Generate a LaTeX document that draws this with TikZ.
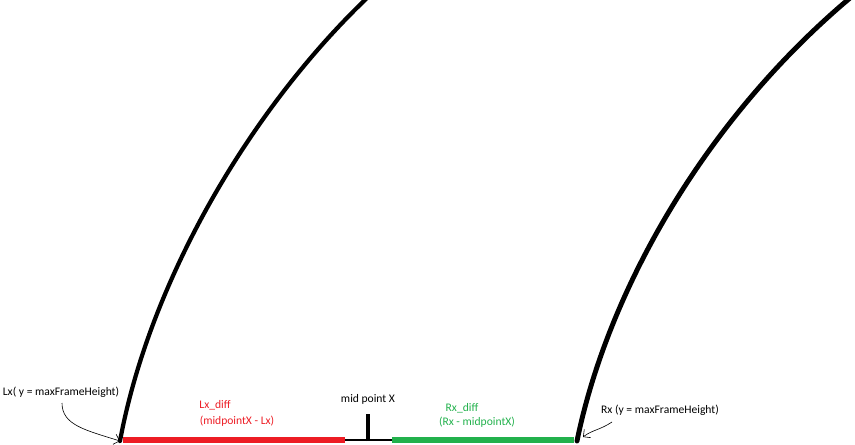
\documentclass[tikz,border=0pt]{standalone}
\usepackage{fontspec}
\setmainfont{Carlito}
\definecolor{paintred}{RGB}{237,28,36}
\definecolor{paintgreen}{RGB}{34,177,76}
\usetikzlibrary{arrows.meta,positioning,calc}
\tikzset{
  lbl/.style={font=\fontsize{6.6}{8}\selectfont, inner sep=1pt},
  lane/.style={line width=2.4pt},
  pointer/.style={-{Straight Barb[length=3pt]}, line width=0.35pt}
}
\begin{document}
\begin{tikzpicture}[x=0.02cm, y=-0.02cm]
  \useasboundingbox (0,0) rectangle (855,444);
  %% lane borders
  \coordinate (lxbase) at (120,441);
  \coordinate (lxtop) at (367,-2);
  \coordinate (rxbase) at (577,441);
  \coordinate (rxtop) at (850,-2);
  \coordinate (midbase) at (368,441);
  \coordinate (midtop) at (368,414);
  \draw[lane, line cap=round] (lxbase) .. controls (150,280) and (250,110) .. (lxtop);
  \draw[lane, line width=2.8pt, line cap=round] (rxbase) .. controls (608,290) and (705,120) .. (rxtop);

  %% differences along the bottom
  \coordinate (redend) at (345,440);
  \coordinate (greenstart) at (392,440);
  \draw[paintred, line width=3pt] (123,440) -- (redend);
  \draw[line width=1.1pt] (redend) -- (greenstart);
  \draw[line width=2.2pt] (midbase) -- (midtop);
  \draw[paintgreen, line width=3pt] (greenstart) -- (574,440);

  %% labels
  \node[lbl] (lxlabel) at (61,392) {Lx( y = maxFrameHeight)};
  \node[lbl] (rxlabel) at (660,410) {Rx (y = maxFrameHeight)};
  \node[lbl] (midlabel) at (368,399) {mid point X};
  \node[lbl, text=paintred] (lxdiff) at (215,405) {Lx\_diff};
  \node[lbl, text=paintred] (lxdiffeq) at (237,421) {(midpointX - Lx)};
  \node[lbl, text=paintgreen] (rxdiff) at (462,408) {Rx\_diff};
  \node[lbl, text=paintgreen] (rxdiffeq) at (477,422) {(Rx - midpointX)};

  %% hand drawn pointers
  \draw[pointer] (62,403) .. controls (62,425) and (85,430) .. (lxbase);
  \draw[pointer] (612,422) .. controls (600,430) and (592,430) .. (583,437);
\end{tikzpicture}
\end{document}
